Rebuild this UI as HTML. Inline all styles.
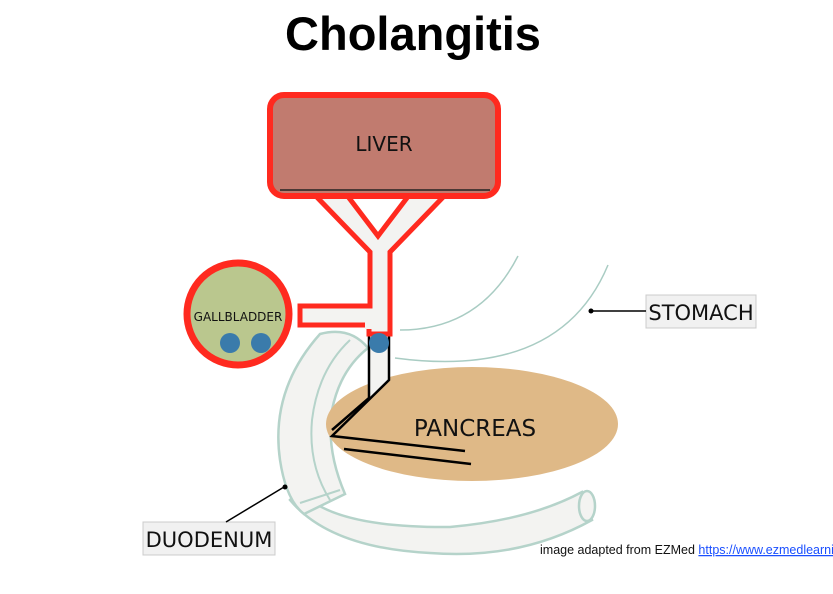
<!DOCTYPE html>
<html><head><meta charset="utf-8"><style>
body{margin:0;background:#fff;width:833px;height:589px;overflow:hidden;font-family:"Liberation Sans",sans-serif}
</style></head><body>
<svg width="833" height="589" viewBox="0 0 833 589" xmlns="http://www.w3.org/2000/svg">
<text x="413" y="50" text-anchor="middle" font-family="Liberation Sans" font-weight="bold" font-size="47">Cholangitis</text>
<path d="M518 256 Q480 330 400 330" fill="none" stroke="#a9ccc3" stroke-width="1.5"/>
<path d="M608 265 Q560 380 395 358" fill="none" stroke="#a9ccc3" stroke-width="1.5"/>
<path d="M300 490 Q330 528 450 527 Q530 520 582 492 L592 520 Q520 560 430 553 Q330 548 290 500 Z" fill="#f3f3f1" stroke="#b5d3ca" stroke-width="2.5"/>
<ellipse cx="587" cy="506" rx="8" ry="15" fill="#f3f3f1" stroke="#b5d3ca" stroke-width="2.5"/>
<path d="M320 334 Q270 390 280 460 Q286 500 304 514 L345 494 Q326 450 332 410 Q340 370 368 348 Q350 326 320 334 Z" fill="#f3f3f1" stroke="#b5d3ca" stroke-width="2.5"/>
<path d="M350 340 Q318 370 312 420 Q308 465 330 500" fill="none" stroke="#b5d3ca" stroke-width="2"/>
<path d="M300 503 L340 490" stroke="#b5d3ca" stroke-width="2"/>
<ellipse cx="472" cy="424" rx="146" ry="57" fill="#dfb987"/>
<text x="475" y="436" text-anchor="middle" font-size="23" font-family="DejaVu Sans" fill="#111">PANCREAS</text>
<path d="M369 330 L389 330 L389 380 L332 436 L369 398 Z" fill="#f3f3f1"/>
<polyline points="369,326 369,398 332,430" fill="none" stroke="#000" stroke-width="2.5"/>
<polyline points="389,326 389,380 332,436 465,451" fill="none" stroke="#000" stroke-width="2.5"/>
<line x1="344" y1="449" x2="471" y2="464" stroke="#000" stroke-width="2.5"/>
<path d="M310 190 L370 252 L370 306 L300 306 L300 325 L369 325 L369 334 L390 334 L390 252 L450 190 L413 190 L378 236 L343 190 Z" fill="#f3f3f1" stroke="#ff2a1f" stroke-width="5" stroke-linejoin="miter"/>
<rect x="365" y="309" width="22" height="20" fill="#f3f3f1"/>
<rect x="270" y="95" width="228" height="101" rx="14" fill="#c17b6f" stroke="#ff2a1f" stroke-width="6"/>
<line x1="280" y1="190" x2="490" y2="190" stroke="#222" stroke-width="1.5"/>
<text x="384" y="151" text-anchor="middle" font-size="20" font-family="DejaVu Sans" fill="#111">LIVER</text>
<circle cx="238" cy="314" r="51" fill="#bac78e" stroke="#ff2a1f" stroke-width="7"/>
<text x="238" y="321" text-anchor="middle" font-size="12" font-family="DejaVu Sans" fill="#111">GALLBLADDER</text>
<circle cx="230" cy="343" r="10" fill="#3a7bab"/>
<circle cx="261" cy="343" r="10" fill="#3a7bab"/>
<circle cx="379" cy="343" r="10" fill="#3a7bab"/>
<rect x="646" y="295" width="110" height="33" fill="#f1f1f1" stroke="#ccc"/>
<text x="701" y="320" text-anchor="middle" font-size="21" font-family="DejaVu Sans" fill="#111">STOMACH</text>
<line x1="646" y1="311" x2="592" y2="311" stroke="#000" stroke-width="1.5"/>
<circle cx="591" cy="311" r="2.5" fill="#000"/>
<rect x="143" y="522" width="132" height="33" fill="#f1f1f1" stroke="#ccc"/>
<text x="209" y="547" text-anchor="middle" font-size="21" font-family="DejaVu Sans" fill="#111">DUODENUM</text>
<line x1="226" y1="522" x2="284" y2="487" stroke="#000" stroke-width="1.5"/>
<circle cx="285" cy="487" r="2.5" fill="#000"/>
<text x="540" y="554" font-size="12.5" font-family="Liberation Sans" fill="#111">image adapted from EZMed <tspan fill="#1a4fff" text-decoration="underline">https://www.ezmedlearning.com</tspan></text>
</svg>
</body></html>
